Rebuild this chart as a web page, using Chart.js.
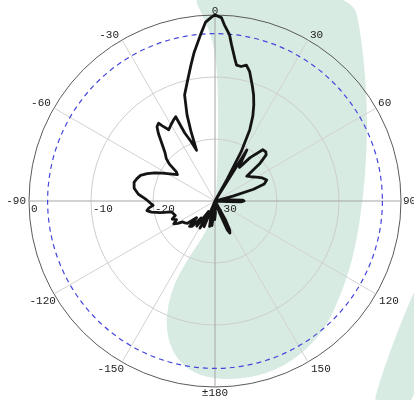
<!DOCTYPE html>
<html lang="ja">
<head>
<meta charset="utf-8">
<title>指向性パターン</title>
<script src="https://cdn.jsdelivr.net/npm/chart.js@4.4.1/dist/chart.umd.min.js"></script>
<style>
  html, body { margin: 0; padding: 0; background: #fff; }
  #wrap { width: 414px; height: 400px; }
</style>
</head>
<body>
<div id="wrap"><canvas id="pattern" width="414" height="400"></canvas></div>
<script>
/**
 * Polar radiation pattern (dB) drawn on a radar chart, one label per degree.
 * Angles are clockwise from the top; only the sampled angles carry a value,
 * the line spans the gaps between them.
 */

// measured pattern: angle (deg, clockwise from top) -> relative gain (dB)
const patternAngles = [
  0, 2, 3, 5, 6, 8, 9, 11, 13, 15, 18, 20, 22, 24, 26, 28, 29, 30,
  32, 34, 36, 39, 43, 46, 48, 50, 52, 56, 60, 64, 68, 71, 73, 75, 77,
  84, 86, 88, 90, 92, 93, 95,
  148, 151, 153, 155, 157, 159, 161,
  175, 178, 181, 184, 187, 190, 192, 194, 197,
  200, 203, 206, 209, 212, 216, 219, 222, 225, 228, 231, 234, 237, 239,
  241, 244, 247, 250, 253, 256, 258, 260, 262, 264, 266, 268, 270, 272,
  275, 279, 283, 286, 289, 292, 295, 298, 301, 305, 307, 309, 311, 314,
  317, 320, 322, 324, 325, 327, 330, 333, 335, 336, 338, 340, 341, 342,
  344, 347, 350, 352, 355, 357, 359,
];
const patternGainDb = [
  0, -0.4, -1.5, -3.1, -4.6, -6.9, -7.8, -7.9, -7.5, -8.4, -10.5, -11.8, -13.3, -15.0, -17.2, -21.0, -26, -30,
  -20.3, -22.5, -23.3, -21.0, -18.7, -18.6, -18.9, -20.5, -23.5, -23.0, -22.3, -21.5, -21.0, -21.6, -23.5, -27, -30,
  -30, -27.5, -25.5, -25.3, -25.8, -28, -30,
  -30, -26.5, -24.8, -24.3, -25.0, -28, -30,
  -30, -28, -27, -29, -26, -27.5, -25.8, -27, -30,
  -30, -25.5, -27.5, -25.0, -28, -25.0, -26.5, -24.5, -24.2, -26, -24.3, -24.0, -23.8, -23.0,
  -22.4, -23.1, -22.5, -23.2, -23.0, -22.8, -21.0, -19.6, -18.9, -19.3, -20.0, -19.6, -19.2, -18.7,
  -17.6, -16.8, -16.6, -16.9, -17.3, -18.2, -19.3, -20.4, -21.5, -22.6, -22.2, -20.5, -19.6, -18.8,
  -17.5, -15.8, -14.8, -14.5, -15.2, -16.3, -15.8, -15.3, -15.0, -18.0, -19.6, -21.3, -18.0, -15.4,
  -12.2, -10.2, -7.7, -5.8, -3.1, -1.1, -0.3,
];

// angle ticks every 30 degrees, radial ticks every 10 dB
const angleTickDegrees = [0, 30, 60, 90, 120, 150, 180, 210, 240, 270, 300, 330];
const angleTickLabels = ['0', '30', '60', '90', '120', '150', '±180', '-150', '-120', '-90', '-60', '-30'];
const radialTickValues = [0, -10, -20, -30];
const halfPowerDb = -3;
const RANGE_MIN = -30;
const RANGE_MAX = 0;

const degreeLabels = Array.from({ length: 360 }, (_, deg) => String(deg));
const gainByDegree = new Array(360).fill(null);
patternAngles.forEach((deg, i) => {
  gainByDegree[deg % 360] = patternGainDb[i];
});

const TEXT_FONT = '11px "Liberation Mono", "DejaVu Sans Mono", monospace';
const TEXT_COLOR = '#222';

/** smooth closed outline through a list of [x, y] points */
function smoothOutline(ctx, pts) {
  const n = pts.length;
  const mid = (a, b) => [(a[0] + b[0]) / 2, (a[1] + b[1]) / 2];
  const start = mid(pts[n - 1], pts[0]);
  ctx.moveTo(start[0], start[1]);
  for (let i = 0; i < n; i++) {
    const m = mid(pts[i], pts[(i + 1) % n]);
    ctx.quadraticCurveTo(pts[i][0], pts[i][1], m[0], m[1]);
  }
  ctx.closePath();
}

// pale green watermark behind the plot
const watermark = {
  id: 'watermark',
  beforeDraw(chart) {
    const { ctx } = chart;
    ctx.save();
    ctx.fillStyle = '#d7ebe2';
    ctx.beginPath();
    smoothOutline(ctx, [
      [190, -10], [352, -10], [362, 40], [367, 100], [367, 150], [363, 200],
      [355, 250], [343, 290], [326, 328], [300, 356], [268, 374], [232, 380],
      [204, 377], [184, 367], [171, 349], [166, 327], [168, 304], [175, 282],
      [186, 262], [198, 244], [208, 228], [215, 208], [217, 180], [218, 140],
      [218, 90], [216, 60], [212, 38], [204, 18],
    ]);
    ctx.fill();
    ctx.beginPath();
    smoothOutline(ctx, [
      [420, 280], [414, 292], [402, 320], [390, 352], [380, 380], [372, 410],
      [420, 410],
    ]);
    ctx.fill();
    ctx.restore();
  },
};

// dashed -3 dB ring
const halfPowerRing = {
  id: 'halfPowerRing',
  beforeDatasetsDraw(chart) {
    const scale = chart.scales.r;
    const { ctx } = chart;
    ctx.save();
    ctx.strokeStyle = '#4646dc';
    ctx.lineWidth = 1.2;
    ctx.setLineDash([5, 4]);
    ctx.beginPath();
    ctx.arc(scale.xCenter, scale.yCenter, scale.getDistanceFromCenterForValue(halfPowerDb), 0, Math.PI * 2);
    ctx.stroke();
    ctx.restore();
  },
};

// angle labels round the rim, dB labels along the left horizontal axis
const axisLabels = {
  id: 'axisLabels',
  afterDraw(chart) {
    const scale = chart.scales.r;
    const { ctx } = chart;
    ctx.save();
    ctx.font = TEXT_FONT;
    ctx.fillStyle = TEXT_COLOR;

    angleTickDegrees.forEach((deg, i) => {
      const p = scale.getPointPosition(deg, scale.drawingArea);
      let x = p.x;
      let y = p.y;
      if (deg === 0) {
        ctx.textAlign = 'center'; ctx.textBaseline = 'bottom'; y += 2;
      } else if (deg === 180) {
        ctx.textAlign = 'center'; ctx.textBaseline = 'top'; y += 1;
      } else if (deg === 90) {
        ctx.textAlign = 'left'; ctx.textBaseline = 'middle'; x += 2;
      } else if (deg === 270) {
        ctx.textAlign = 'right'; ctx.textBaseline = 'middle'; x -= 3;
      } else if (deg < 90) {
        ctx.textAlign = 'left'; ctx.textBaseline = 'bottom'; x += 2; y += 1;
      } else if (deg < 180) {
        ctx.textAlign = 'left'; ctx.textBaseline = 'top'; x += 3; y += 2;
      } else if (deg < 270) {
        ctx.textAlign = 'right'; ctx.textBaseline = 'top'; x += 2; y += 2;
      } else {
        ctx.textAlign = 'right'; ctx.textBaseline = 'bottom'; x -= 3; y += 1;
      }
      ctx.fillText(angleTickLabels[i], x, y);
    });

    ctx.textAlign = 'left';
    ctx.textBaseline = 'top';
    radialTickValues.forEach((v) => {
      const p = scale.getPointPositionForValue(270, v);
      ctx.fillText(String(v), p.x + 2, p.y + 3);
    });
    ctx.restore();
  },
};

new Chart(document.getElementById('pattern'), {
  type: 'radar',
  data: {
    labels: degreeLabels,
    datasets: [
      {
        data: gainByDegree,
        borderColor: '#141414',
        borderWidth: 2.8,
        borderJoinStyle: 'round',
        borderCapStyle: 'round',
        pointRadius: 0,
        pointHoverRadius: 0,
        fill: false,
        tension: 0,
        spanGaps: true,
      },
    ],
  },
  options: {
    responsive: false,
    animation: false,
    events: [],
    layout: { padding: { left: 29, right: 13, top: 15, bottom: 13 } },
    plugins: { legend: { display: false }, tooltip: { enabled: false } },
    scales: {
      r: {
        min: RANGE_MIN,
        max: RANGE_MAX,
        ticks: { display: false, stepSize: 10 },
        pointLabels: { display: false },
        grid: {
          circular: true,
          lineWidth: 1,
          color: (ctx) => {
            if (ctx.tick.value === RANGE_MAX) return '#5a5a5a';
            if (ctx.tick.value === RANGE_MIN) return 'rgba(0,0,0,0)';
            return '#cdcdcd';
          },
        },
        angleLines: {
          lineWidth: (ctx) => (ctx.index % 30 === 0 ? 1 : 0),
          color: (ctx) => (ctx.index % 90 === 0 ? '#a6a6a6' : '#d2d2d2'),
        },
      },
    },
  },
  plugins: [watermark, halfPowerRing, axisLabels],
});
</script>
</body>
</html>
